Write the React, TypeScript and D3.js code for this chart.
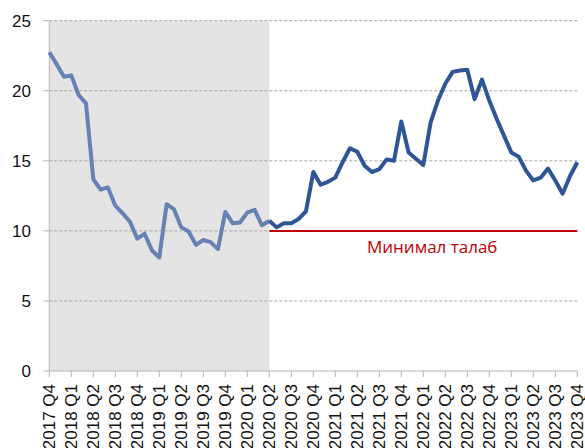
import { line, range, scaleLinear } from 'd3'

// quarterly axis labels, 2017 Q4 .. 2023 Q4
const quarterLabels = [
    '2017 Q4', '2018 Q1', '2018 Q2', '2018 Q3', '2018 Q4',
    '2019 Q1', '2019 Q2', '2019 Q3', '2019 Q4', '2020 Q1',
    '2020 Q2', '2020 Q3', '2020 Q4', '2021 Q1', '2021 Q2',
    '2021 Q3', '2021 Q4', '2022 Q1', '2022 Q2', '2022 Q3',
    '2022 Q4', '2023 Q1', '2023 Q2', '2023 Q3', '2023 Q4'
]

// monthly values, Oct 2017 .. Oct 2023
const ratioValues = [
    22.75, 21.9, 21.0, 21.1, 19.7, 19.1, 13.7, 12.95, 13.1, 11.8,
    11.25, 10.65, 9.45, 9.8, 8.6, 8.1, 11.9, 11.55, 10.25, 9.95,
    9.0, 9.35, 9.2, 8.7, 11.35, 10.55, 10.6, 11.3, 11.5, 10.4,
    10.72, 10.25, 10.55, 10.55, 10.85, 11.4, 14.2, 13.3, 13.5, 13.8,
    14.9, 15.9, 15.65, 14.65, 14.2, 14.4, 15.1, 15.0, 17.8, 15.6,
    15.15, 14.7, 17.75, 19.3, 20.5, 21.35, 21.45, 21.5, 19.4, 20.8,
    19.3, 18.0, 16.8, 15.6, 15.3, 14.3, 13.6, 13.8, 14.45, 13.6,
    12.65, 13.9, 14.9
]

const yTicks = [0, 5, 10, 15, 20, 25]
const splitIndex = 30 // 2020 Q2: end of shaded period
const minRequirement = 10
const minLabel = 'Минимал талаб'

const width = 585
const height = 448
const left = 49.3
const right = 577.3
const top = 20.7
const bottom = 371

export default function App() {
    const x = scaleLinear().domain([0, ratioValues.length - 1]).range([left, right])
    const y = scaleLinear().domain([0, 25]).range([bottom, top])

    const pts = ratioValues.map((v, i) => [i, v] as [number, number])
    const path = line<[number, number]>().x(d => x(d[0])).y(d => y(d[1]))

    const font = '"Liberation Sans", Arial, sans-serif'

    return (
        <svg width={width} height={height} style={{ position: 'absolute', left: 0, top: 0 }}
            fontFamily={font}>
            <rect x={x(0)} y={y(25)} width={x(splitIndex) - x(0)} height={y(0) - y(25)} fill="#e4e4e4" />

            {yTicks.filter(t => t > 0).map(t => (
                <line key={t} x1={left} x2={right} y1={y(t)} y2={y(t)}
                    stroke="#a6a6a6" strokeWidth={1} strokeDasharray="3,2" />
            ))}

            {/* y axis */}
            <line x1={left} x2={left} y1={y(25)} y2={y(0)} stroke="#b4b4b4" strokeWidth={1} />
            {yTicks.map(t => (
                <g key={t}>
                    <line x1={left - 6} x2={left} y1={y(t)} y2={y(t)} stroke="#b4b4b4" />
                    <text x={31} y={y(t)} dy="0.36em" textAnchor="end" fontSize={17} fill="#111">{t}</text>
                </g>
            ))}

            {/* x axis */}
            <line x1={left} x2={right} y1={bottom} y2={bottom} stroke="#b4b4b4" />
            {quarterLabels.map((q, i) => {
                const xx = x(i * 3)
                return (
                    <g key={q}>
                        <line x1={xx} x2={xx} y1={bottom} y2={bottom + 6} stroke="#b4b4b4" />
                        <text transform={`translate(${xx},${bottom + 13}) rotate(-90)`}
                            textAnchor="end" dy="0.36em" fontSize={17} fill="#111">{q}</text>
                    </g>
                )
            })}

            {/* minimum requirement */}
            <line x1={x(splitIndex)} x2={right} y1={y(minRequirement)} y2={y(minRequirement)}
                stroke="#c00000" strokeWidth={2} />
            <text x={367} y={253} fontSize={17} fill="#c00000" fontFamily={'"Open Sans", sans-serif'}>{minLabel}</text>

            <path d={path(pts.slice(0, splitIndex + 1)) || ''} fill="none" stroke="#6682b4"
                strokeWidth={4} strokeLinejoin="round" />
            <path d={path(pts.slice(splitIndex)) || ''} fill="none" stroke="#2f5597"
                strokeWidth={4} strokeLinejoin="round" />
        </svg>
    )
}
